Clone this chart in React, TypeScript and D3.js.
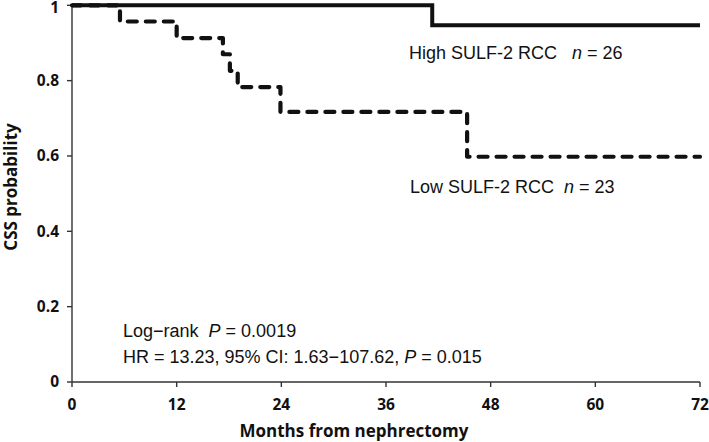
import * as d3 from "d3";

// Kaplan–Meier step points
const highMonths = [0, 41.3, 72];
const highSurv = [1, 0.947, 0.947];
const lowMonths = [0, 5.5, 12, 17.3, 18.1, 19, 23.9, 45.3, 72];
const lowSurv = [1, 0.957, 0.913, 0.87, 0.826, 0.783, 0.717, 0.598, 0.598];

const xTicks = [0, 12, 24, 36, 48, 60, 72];
const yTicks = [0, 0.2, 0.4, 0.6, 0.8, 1];
const yTickLabels = ["0", "0.2", "0.4", "0.6", "0.8", "1"];

const width = 709;
const height = 442;
const marginLeft = 72;
const marginRight = 9;
const marginTop = 5.3;
const marginBottom = 60;

const axisFont = "'Open Sans', sans-serif";
const noteFont = "'Liberation Sans', Arial, sans-serif";

export default function App() {
  const x = d3.scaleLinear().domain([0, 72]).range([marginLeft, width - marginRight]);
  const y = d3.scaleLinear().domain([0, 1]).range([height - marginBottom, marginTop]);

  const line = d3
    .line<[number, number]>()
    .x((d) => x(d[0]))
    .y((d) => y(d[1]))
    .curve(d3.curveStepAfter);

  const high = highMonths.map((m, i) => [m, highSurv[i]] as [number, number]);
  const low = lowMonths.map((m, i) => [m, lowSurv[i]] as [number, number]);

  const y0 = y(0);

  return (
    <svg
      width={width}
      height={height}
      style={{ position: "absolute", left: 0, top: 0, background: "#fff" }}
    >
      {/* axes */}
      <g stroke="#333" strokeWidth={1.4} fill="none">
        <line x1={x(0)} x2={x(0)} y1={y(1)} y2={y0} />
        <line x1={x(0)} x2={x(72)} y1={y0} y2={y0} />
        {yTicks.map((t) => (
          <line key={"yt" + t} x1={x(0) - 5} x2={x(0)} y1={y(t)} y2={y(t)} />
        ))}
        {xTicks.map((t) => (
          <line key={"xt" + t} x1={x(t)} x2={x(t)} y1={y0} y2={y0 + 5} />
        ))}
      </g>

      <g fontFamily={axisFont} fontWeight={700} fontSize={15.5} fill="#111">
        {yTicks.map((t, i) => (
          <text
            key={"yl" + t}
            x={x(0) - 13}
            y={Math.max(y(t), 8)}
            dy="0.35em"
            textAnchor="end"
          >
            {yTickLabels[i]}
          </text>
        ))}
        {xTicks.map((t) => (
          <text key={"xl" + t} x={x(t)} y={y0 + 28} textAnchor="middle">
            {t}
          </text>
        ))}
      </g>

      {/* axis titles */}
      <text
        x={354}
        y={437}
        textAnchor="middle"
        fontFamily={axisFont}
        fontWeight={700}
        fontSize={17}
        fill="#111"
      >
        Months from nephrectomy
      </text>
      <text
        transform="translate(17,187) rotate(-90)"
        textAnchor="middle"
        fontFamily={axisFont}
        fontWeight={700}
        fontSize={17}
        fill="#111"
      >
        CSS probability
      </text>

      {/* survival curves */}
      <path d={line(high) ?? ""} fill="none" stroke="#111" strokeWidth={4} />
      <path
        d={line(low) ?? ""}
        fill="none"
        stroke="#111"
        strokeWidth={4.2}
        strokeDasharray="9 9"
        strokeLinecap="round"
        strokeLinejoin="round"
      />

      {/* annotations */}
      <g fontFamily={noteFont} fontSize={18} fill="#111">
        <text x={409} y={58.5} xmlSpace="preserve">
          {"High SULF-2 RCC   "}
          <tspan fontStyle="italic">n</tspan>
          {" = 26"}
        </text>
        <text x={410} y={192.5} xmlSpace="preserve">
          {"Low SULF-2 RCC  "}
          <tspan fontStyle="italic">n</tspan>
          {" = 23"}
        </text>
        <text x={123} y={337} xmlSpace="preserve">
          {"Log\u2212rank  "}
          <tspan fontStyle="italic">P</tspan>
          {" = 0.0019"}
        </text>
        <text x={123} y={363} xmlSpace="preserve">
          {"HR = 13.23, 95% CI: 1.63\u2212107.62, "}
          <tspan fontStyle="italic">P</tspan>
          {" = 0.015"}
        </text>
      </g>
    </svg>
  );
}
